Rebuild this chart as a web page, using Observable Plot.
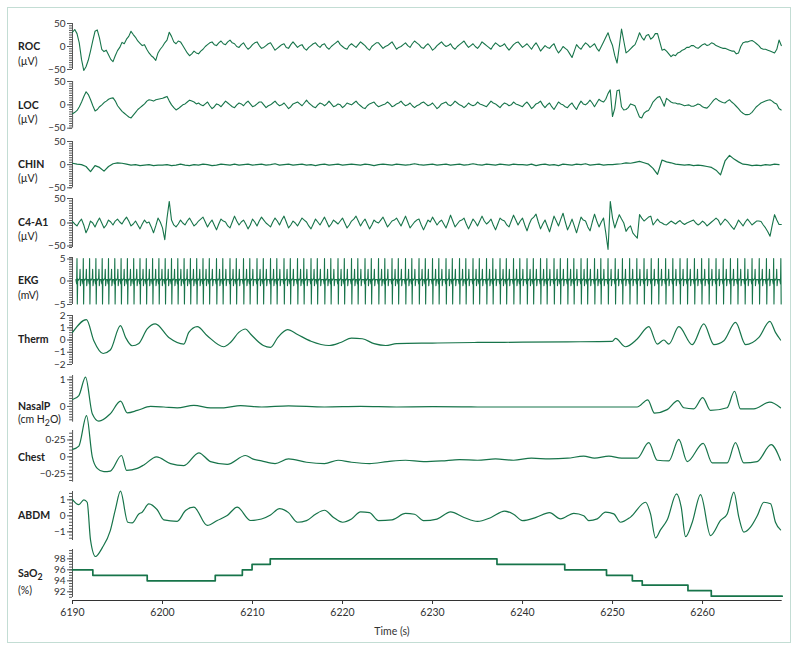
<!DOCTYPE html>
<html><head><meta charset="utf-8">
<script src="https://cdn.jsdelivr.net/npm/d3@7"></script>
<script src="https://cdn.jsdelivr.net/npm/@observablehq/plot@0.6"></script>
<style>
body{margin:0;background:#fff;}
#wrap{position:relative;width:800px;height:653px;font-family:Lato,"Open Sans",sans-serif;color:#222;overflow:hidden}
#frame{position:absolute;left:7px;top:7px;width:782px;height:634px;border:1.5px solid #c3ddd4;}
.lab{position:absolute;left:18px;font-size:10.5px;line-height:12px;transform:translateY(-50%);white-space:nowrap;color:#222}
.lab.b{font-weight:700}
.pl{position:absolute;left:0}
#xl{position:absolute;top:631px;left:392px;transform:translate(-50%,-50%);font-size:10.5px;color:#333}
</style></head><body><div id="wrap"><div id="frame"></div><div id="xl">Time (s)</div></div>
<script>
// ---------- data ----------
const xDomain = [6190, 6268.85];
const xTicks = [6190, 6200, 6210, 6220, 6230, 6240, 6250, 6260];
const eegT0 = 6190, eegStep = 0.25, chinStep = 0.5;
const roc = [
 31,37,28,8,-28,-52,-44,-30,-10,12,33,36,18,-6,-11,-8,-18,-28,-33,-20,
 -9,-2,9,6,16,22,33,26,20,12,7,2,4,-6,-14,-20,-24,-30,-14,-6,
 0,8,14,31,22,10,6,12,10,2,-6,-14,-20,-16,-10,-14,-16,-10,-6,0,
 4,8,10,4,2,8,12,6,4,10,14,8,6,0,-2,4,8,0,-6,-2,
 4,8,10,2,-4,-2,2,6,8,0,-8,-4,0,4,6,-2,-4,4,10,4,
 -2,2,4,-4,-8,-2,2,6,8,2,-2,4,6,-2,-6,0,4,8,12,4,
 0,-4,-6,2,6,2,-2,4,10,6,2,-4,-8,0,4,8,8,2,-4,0,
 2,6,10,2,-6,-2,0,4,8,2,-2,6,12,8,4,-2,-4,2,6,0,
 -8,-4,2,6,10,4,0,2,6,-2,-6,0,4,8,12,4,-2,2,6,0,
 -4,2,10,6,2,-2,-6,2,8,4,0,2,6,-2,-8,-2,4,8,10,4,
 -2,2,6,0,-6,2,8,0,-10,-4,2,-2,-4,2,6,-6,-14,-8,0,-4,
 -8,-16,-24,-10,4,-2,-6,2,8,4,-2,2,6,-4,-10,0,10,20,30,14,
 2,-20,-36,0,38,12,-14,-10,-5,0,4,16,30,20,14,24,26,16,20,28,
 28,10,-8,-6,-10,-16,-22,-18,-20,-14,-12,-8,-6,-2,-2,2,2,-2,-4,0,
 4,6,2,4,8,6,2,0,-2,-4,-4,-6,-8,-10,-10,-16,-14,0,8,10,
 10,12,13,10,6,2,-4,-6,-6,-8,-10,-12,-14,-6,14,2];
const loc = [
 -19,-16,-12,-4,6,18,28,22,11,-2,-13,-10,-4,0,5,8,12,14,15,8,
 -2,-8,-14,-18,-22,-26,-28,-22,-16,-10,-6,-2,2,8,11,10,8,11,12,13,
 14,16,18,8,0,-6,-11,-8,-4,0,2,6,10,8,6,2,4,0,-2,2,
 6,-2,-8,-4,2,0,-4,2,8,4,0,-4,-6,0,4,2,-2,4,8,2,
 -4,-2,2,6,6,0,-6,-2,0,4,8,2,-2,0,4,-2,-8,-4,2,4,
 6,2,-2,4,10,4,0,-4,-6,0,4,2,-2,2,8,2,-4,-2,2,0,
 -6,-2,4,2,0,4,8,2,-2,-6,-8,-2,2,4,6,0,-4,-2,0,2,
 6,2,-4,-2,2,4,8,2,-2,0,4,-2,-6,-2,0,4,6,2,-2,0,
 4,-2,-8,-4,2,4,6,0,-2,2,8,4,0,-2,-6,-2,4,0,-2,0,
 6,2,0,-2,-4,2,8,4,2,-2,-6,0,4,2,-2,0,6,2,0,-2,
 -4,2,6,0,-8,-4,2,4,8,0,-6,0,4,-4,-10,-2,6,2,0,-4,
 -6,0,4,-4,-10,0,8,2,0,4,10,4,-4,4,12,8,6,12,24,32,
 -25,-8,30,32,-4,-11,-10,-6,2,0,-2,-14,-26,-28,-18,-14,-12,-4,6,11,
 16,18,8,-3,14,10,6,4,4,2,2,0,-2,-1,0,-3,-3,-1,2,0,
 -4,-6,-7,-2,4,10,14,10,7,5,4,8,11,6,2,-3,-8,-14,-18,-21,
 -21,-20,-16,-10,-4,0,4,6,8,10,11,8,4,2,-8,-11];
const chin = [
 3,1,0,-4,-15,-2,-6,-14,-4,2,
 4,3,1,-1,0,-2,-1,0,-2,-1,
 -1,0,-2,-1,1,-1,-2,0,-1,1,
 0,-2,-1,1,0,-1,1,-1,0,1,
 -1,0,1,-1,0,2,-1,0,1,-1,
 0,1,-1,0,-2,0,1,-1,0,1,
 -1,0,1,0,-1,1,0,-2,0,1,
 0,-1,1,0,-1,0,2,0,-1,0,
 1,-1,0,1,-1,0,1,-1,0,2,
 0,-1,1,0,-1,1,0,-1,1,0,
 0,-1,1,-2,0,1,-1,0,-2,1,
 0,-1,1,0,2,-1,0,1,-1,0,
 0,1,2,4,3,5,7,4,1,-8,
 -21,10,6,4,1,0,-1,0,-2,-1,
 -2,-4,-6,-12,-22,8,20,12,6,1,
 0,-2,-1,-2,0,-1,1,0];
const c4a1 = [
 3,-2,-6,2,8,-4,-20,-10,4,0,-8,2,10,0,-10,-4,6,2,-4,4,
 8,2,-2,6,12,4,-6,-2,4,-4,-12,-2,6,0,2,-8,-20,-6,10,2,
 -10,-34,10,44,6,-4,-8,-2,6,0,-4,4,10,2,-6,-2,4,8,12,2,
 -8,0,6,-4,-14,-2,8,4,2,-6,-10,2,14,4,-4,2,6,-2,-12,-4,
 8,2,-6,4,12,6,0,-4,-8,2,10,4,-4,6,14,2,-10,-4,4,0,
 -6,2,10,6,2,-6,-12,-2,8,2,-4,4,12,2,-8,-2,6,2,-2,4,
 10,0,-10,-4,4,8,14,4,-6,2,8,-2,-12,-4,6,2,0,6,12,2,
 -8,-2,4,6,10,2,-6,4,14,2,-10,-4,2,6,8,-4,-14,-4,6,2,
 12,4,-4,2,6,-2,-10,2,16,4,-8,-2,4,6,10,-2,-12,-2,8,2,
 -6,4,14,4,-2,2,8,-4,-14,-2,10,6,4,-4,-8,4,16,6,-4,4,
 10,-4,-16,-2,8,12,18,2,-12,-2,6,-6,-18,-2,14,4,-6,8,20,2,
 -14,-4,8,-6,-20,-4,12,6,4,-8,-16,2,18,4,-8,2,10,-20,-54,44,
 10,-10,4,17,8,0,-17,-10,-6,-20,-26,-31,17,10,4,8,12,14,-4,2,
 8,2,0,-3,-4,0,4,1,-2,2,5,0,-3,0,2,4,6,0,-4,-1,
 4,0,-6,-2,2,6,10,6,-4,2,8,4,-2,-8,-13,-4,6,0,-6,2,
 8,2,-4,0,4,4,3,-4,-10,-18,-27,-4,17,6,-3,-3];
// EKG: R-peak times (s) and beat shape (offset s, mV)
const ekgBeats = [6190.5,6191.2,6191.9,6192.6,6193.3,6194.0,6194.7,6195.4,6196.1,6196.8,6197.5,6198.2,6198.9,6199.6,6200.3,6201.0,6201.7,6202.4,6203.1,6203.8,6204.5,
 6205.2,6206.0,6206.7,6207.5,6208.2,6209.0,6209.7,6210.5,6211.2,6212.0,6212.7,6213.5,6214.2,6215.0,6215.7,6216.5,6217.2,6218.0,6218.7,6219.5,6220.2,6221.0,6221.7,6222.5,6223.2,6224.0,6224.7,6225.5,6226.2,6227.0,6227.7,6228.5,6229.2,6230.0,6230.7,6231.5,6232.2,6233.0,6233.7,6234.5,6235.2,6236.0,6236.7,6237.5,6238.2,6239.0,6239.7,6240.5,6241.2,6242.0,6242.7,6243.5,6244.2,6245.0,6245.7,6246.5,6247.2,6248.0,6248.7,6249.5,
 6250.3,6251.1,6251.9,6252.7,6253.5,6254.3,6255.1,6255.9,6256.7,6257.5,6258.3,6259.1,6259.9,6260.7,6261.5,6262.3,6263.1,6263.9,6264.7,6265.5,6266.3,6267.1,6267.9,6268.7];
const ekgShapeDt = [-0.12,-0.04,0,0.035,0.08,0.18,0.3,0.34,0.38,0.45];
const ekgShapeV  = [0.3,-0.6,4.8,-4.9,0.4,0.2,0.6,2.5,-1.0,0.3];
const thermT = [6190,6191.55,6192.37,6193.4,6194.2,6195.33,6195.9,6196.63,6197.37,6198.3,6199.2,6200.7,6202.37,6202.92,6203.86,6204.97,6206.8,6207.55,6208.48,6209.22,6209.78,6211.2,6212.0,6212.8,6213.9,6215.0,6216.5,6218.5,6219.8,6221.0,6222.2,6223.5,6224.8,6226,6230,6235,6240,6245,6249.97,6250.33,6251.44,6252.74,6254.03,6254.97,6255.7,6256.26,6257.37,6258.86,6260.14,6261.26,6262.37,6263.67,6264.78,6266.26,6267.48,6268.1,6268.67];
const thermV = [0.62,1.66,-0.06,-1.1,-0.82,1.17,0.21,-0.47,-0.28,0.9,1.31,0.21,-0.33,0.62,1.09,0.35,-0.55,-0.2,0.62,0.9,0.49,-0.45,-0.6,0.2,0.85,0.45,-0.1,-0.45,-0.2,0.15,0.1,-0.3,-0.45,-0.3,-0.25,-0.2,-0.18,-0.15,-0.11,0.13,-0.55,0.08,1.09,-0.33,0.0,-0.33,1.09,-0.38,1.31,-0.38,-0.06,1.44,-0.38,0.21,1.52,0.62,0.0];
const nasalT = [6190,6190.7,6191.44,6192.19,6192.92,6194.2,6195.33,6196.08,6197.19,6198.67,6200.14,6201.63,6203.48,6205.33,6206.81,6208.67,6211,6214,6218,6222,6226,6230,6235,6240,6245,6250,6252.74,6253.92,6254.67,6256.08,6257.26,6257.92,6259.03,6260.03,6260.89,6262.74,6263.56,6264.22,6265.7,6267.48,6268.67];
const nasalV = [0.26,0.41,1.1,-0.27,-0.55,-0.27,0.2,-0.24,-0.15,0.0,-0.02,-0.05,0.04,-0.05,-0.05,0.03,-0.02,0.02,-0.02,0.0,-0.02,-0.01,-0.02,-0.02,-0.02,-0.02,-0.02,0.25,-0.25,-0.12,0.22,-0.05,-0.09,0.33,-0.15,-0.05,0.57,-0.09,-0.09,0.16,-0.05];
const chestT = [6190,6190.7,6191.55,6192.19,6192.74,6193.48,6194.2,6195.44,6196.0,6197.19,6197.92,6199.33,6200.89,6202.37,6204.03,6205.33,6207.19,6209.22,6210,6211,6212.5,6214,6216,6218,6219.5,6221,6223,6225,6227,6229,6231,6233,6235,6237,6239,6241,6243,6245,6246.8,6248,6249.6,6251,6252.74,6254.03,6254.97,6256.26,6257.37,6258.3,6260.08,6261.08,6262.74,6263.67,6264.59,6266.08,6267.63,6268.67];
const chestV = [0.11,0.16,0.61,0.0,-0.17,-0.22,-0.21,0.02,-0.2,-0.17,-0.12,0.0,-0.1,-0.13,0.06,-0.07,-0.11,0.02,-0.03,-0.06,-0.1,-0.03,-0.08,-0.1,-0.05,-0.08,-0.1,-0.07,-0.05,-0.07,-0.06,-0.04,-0.05,-0.03,-0.05,-0.02,-0.03,-0.02,0.01,-0.02,0.01,-0.02,-0.02,0.21,-0.05,-0.06,0.26,-0.07,0.2,-0.09,-0.09,0.21,-0.09,-0.07,0.18,-0.05];
const abdmT = [6190,6190.7,6191.26,6191.63,6192.0,6192.56,6193.3,6194.2,6194.78,6195.33,6196.14,6196.63,6197.37,6197.74,6198.48,6199.41,6200.14,6201.63,6202.56,6203.48,6204.97,6206.08,6207.19,6208.3,6209.78,6211,6212,6213,6214,6215,6216,6217,6218,6219,6220,6221,6222,6223,6224,6225.5,6227,6228,6229,6230.5,6232,6233.5,6235,6236.5,6238,6239,6240,6241.5,6243,6244.22,6245.7,6246.8,6247.37,6248.3,6249.22,6250.14,6250.89,6252,6253.67,6254.22,6254.78,6255.33,6256.08,6257.11,6257.63,6258.11,6258.86,6259.78,6260.89,6262,6262.74,6263.48,6264.03,6264.59,6265.33,6266.08,6266.81,6267.56,6268.1,6268.67];
const abdmV = [1.02,0.7,1.0,0.85,-1.5,-2.54,-2.0,-0.92,0.44,1.54,-0.4,-0.44,0.12,0.23,0.75,0.38,-0.25,-0.34,0.33,0.54,-0.6,-0.29,0.02,0.54,-0.29,-0.2,0.05,0.45,0.2,-0.4,-0.3,0.1,0.35,-0.1,-0.4,-0.2,0.25,0.2,-0.3,-0.25,0.15,0.1,-0.3,-0.2,0.25,-0.1,-0.35,-0.1,0.3,0.1,-0.3,-0.1,0.2,-0.19,0.16,0.0,-0.3,-0.19,0.23,0.12,-0.4,-0.08,0.85,0.12,-1.38,-0.88,-0.25,1.37,0.54,-1.3,-0.4,1.33,-1.23,-0.29,0.12,1.48,-0.08,-1.02,-0.71,0.0,0.85,0.75,-0.4,-0.88];
const saoT = [6190,6192.26,6198.3,6205.86,6208.87,6209.95,6211.97,6237.16,6244.69,6249.33,6252.2,6253.3,6258.38,6260.97,6268.85];
const saoV = [96,95,94,95,96,97,98,97,96,95,94,93.2,92.2,91.2,91.2];

// ---------- drawing ----------
const green = "#17744a";
const fontCss = "Lato, 'Open Sans', sans-serif";
const fmtMinus = d => (d < 0 ? "\u2212" : "") + Math.abs(d);
const fmtDot = d => (d < 0 ? "\u2212" : "") + String(Math.abs(d)).replace(".", "\u00b7");
const series = (arr, step) => arr.map((v, i) => ({t: eegT0 + i * step, v}));
const pairs = (T, V) => T.map((t, i) => ({t, v: V[i]}));
const ekgData = ekgBeats.flatMap(b => ekgShapeDt.map((d, i) => ({t: b + d, v: ekgShapeV[i]})))
  .filter(p => p.t >= xDomain[0] && p.t <= 6268.75);

const panels = [
 {name:"ROC", unit:"(\u00b5V)", top:23.3, h:46, domain:[-50,50], major:[-50,0,50], minor:d3.range(-50,50.1,5), data:series(roc,eegStep), sw:1.1, curve:"linear", ly:46, uy:61},
 {name:"LOC", unit:"(\u00b5V)", top:81, h:46.7, domain:[-50,50], major:[-50,0,50], minor:d3.range(-50,50.1,5), data:series(loc,eegStep), sw:1.1, curve:"linear", ly:104.5, uy:119},
 {name:"CHIN", unit:"(\u00b5V)", top:140.7, h:46.3, domain:[-50,50], major:[-50,0,50], minor:d3.range(-50,50.1,5), data:series(chin,chinStep), sw:1.2, curve:"linear", ly:163.5, uy:178},
 {name:"C4-A1", unit:"(\u00b5V)", top:198.3, h:49, domain:[-50,50], major:[-50,0,50], minor:d3.range(-50,50.1,5), data:series(c4a1,eegStep), sw:1.1, curve:"linear", ly:221.7, uy:236, dyLow:-1.5},
 {name:"EKG", unit:"(mV)", top:257.3, h:47, domain:[-5,5], major:[-5,0,5], minor:d3.range(-5,5.01,0.5), data:ekgData, sw:1.1, curve:"linear", ly:280, uy:294.5, dyHigh:1.5},
 {name:"Therm", unit:"", top:315, h:49, domain:[-2,2], major:[-2,-1,0,1,2], minor:d3.range(-2,2.01,0.2), data:pairs(thermT,thermV), sw:1.2, curve:"monotone-x", ly:339.3},
 {name:"NasalP", unit:"(cm H<sub>2</sub>O)", top:375, h:46.7, domain:[-0.59,1.16], major:[0,1], minor:d3.range(-0.5,1.11,0.1), data:pairs(nasalT,nasalV), sw:1.2, curve:"monotone-x", ly:406, uy:420.5},
 {name:"Chest", unit:"", top:430, h:51.7, domain:[-0.375,0.39], major:[-0.25,0,0.25], minor:d3.range(-0.35,0.351,0.05), data:pairs(chestT,chestV), sw:1.2, curve:"monotone-x", ly:456.7, fmt:fmtDot},
 {name:"ABDM", unit:"", top:491, h:49, domain:[-1.54,1.52], major:[-1,0,1], minor:d3.range(-1.4,1.41,0.2), data:pairs(abdmT,abdmV), sw:1.2, curve:"monotone-x", ly:515.3},
 {name:"SaO<sub>2</sub>", unit:"(%)", top:549, h:48, domain:[90.96,99.7], major:[92,94,96,98], minor:d3.range(91,99.51,0.5), data:pairs(saoT,saoV), sw:1.7, curve:"step-after", ly:575, uy:590, xaxis:true}
];

const wrap = document.getElementById("wrap");
for (const p of panels) {
  const H = p.xaxis ? p.h + 52 : p.h;
  const fmt = p.fmt || fmtMinus;
  const lo = p.major[0], hi = p.major[p.major.length - 1];
  const midTicks = p.major.filter(v => !((v === lo && p.dyLow) || (v === hi && p.dyHigh)));
  const marks = [
    Plot.axisY({ticks: p.minor, tickSize: 3, tickFormat: () => "", label: null, stroke: "#555"}),
    Plot.axisY({ticks: midTicks, tickSize: 5, tickPadding: 2, tickFormat: fmt, label: null, stroke: "#555"}),
    Plot.ruleX([xDomain[0]], {y1: p.domain[0], y2: p.domain[1], stroke: "#555"}),
    Plot.line(p.data, {x: "t", y: "v", stroke: green, strokeWidth: p.sw, curve: p.curve})
  ];
  if (p.dyLow) marks.push(Plot.axisY({ticks: [lo], tickSize: 5, tickPadding: 2, tickFormat: fmt, label: null, stroke: "#555", dy: p.dyLow}));
  if (p.dyHigh) marks.push(Plot.axisY({ticks: [hi], tickSize: 5, tickPadding: 2, tickFormat: fmt, label: null, stroke: "#555", dy: p.dyHigh}));
  if (p.xaxis) {
    const perPx = (p.domain[1] - p.domain[0]) / p.h;
    marks.push(Plot.ruleY([p.domain[0] - 3 * perPx], {stroke: "#333", strokeWidth: 1}));
    marks.push(Plot.axisX({ticks: xTicks, tickSize: 4, tickPadding: 4, tickFormat: d => String(d), label: null, anchor: "bottom", stroke: "#333", fontSize: "10.5px"}));
  }
  const svg = Plot.plot({
    width: 800, height: H,
    marginLeft: 72, marginRight: 18.3, marginTop: 0, marginBottom: p.xaxis ? H - p.h - 3 : 0,
    style: {background: "transparent", overflow: "visible", fontFamily: fontCss, fontSize: "10px", color: "#333"},
    x: {domain: xDomain, axis: p.xaxis ? undefined : null},
    y: {domain: p.domain, range: [p.h, 0], label: null},
    marks
  });
  svg.classList.add("pl");
  svg.style.top = p.top + "px";
  wrap.appendChild(svg);
  const l = document.createElement("div");
  l.className = "lab b"; l.style.top = p.ly + "px"; l.innerHTML = p.name;
  wrap.appendChild(l);
  if (p.unit) {
    const u = document.createElement("div");
    u.className = "lab"; u.style.top = p.uy + "px"; u.innerHTML = p.unit;
    wrap.appendChild(u);
  }
}
</script>
</body></html>
